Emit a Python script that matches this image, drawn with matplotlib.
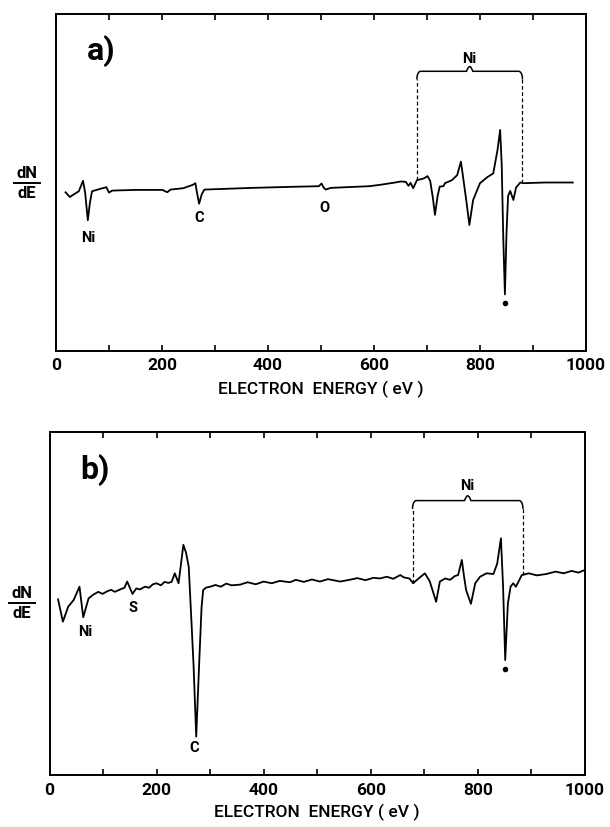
import numpy as np
import matplotlib
matplotlib.use("Agg")
import matplotlib.pyplot as plt

plt.rcParams['font.family'] = ['Roboto', 'DejaVu Sans']

# ---- spectrum a) : energy (eV) and dN/dE (arbitrary units, 0..100 of panel height)
energy_a = [18, 26, 43, 51, 55, 60, 64, 68, 83, 95, 100, 106, 150, 201, 210, 216,
            240, 258, 263, 266, 270, 275, 280, 370, 440, 496, 501, 505, 509, 518,
            591, 611, 640, 650, 660, 665, 669, 674, 681, 694, 701, 706, 711, 715,
            720, 724, 731, 734, 747, 757, 764, 768, 774, 780, 787, 800, 813, 825,
            833, 838, 841, 844, 847, 850, 853, 857, 863, 868, 876, 882, 923, 975]
dnde_a = [47.1, 45.7, 47.4, 50.5, 47.0, 38.8, 44.0, 47.4, 48.1, 48.6, 47.0, 47.6,
          47.8, 47.8, 47.1, 47.9, 48.3, 49.3, 49.8, 47.0, 43.7, 46.5, 47.9, 48.4,
          48.7, 48.9, 49.7, 48.5, 47.9, 48.4, 48.9, 49.3, 50.0, 50.3, 50.2, 49.0,
          49.9, 48.3, 50.7, 51.2, 51.9, 50.5, 45.5, 40.4, 46.0, 48.8, 48.9, 49.8,
          50.7, 52.2, 56.2, 51.7, 44.8, 37.4, 44.8, 49.8, 51.5, 52.7, 59.6, 65.6,
          55.0, 33.0, 16.8, 35.0, 46.0, 47.5, 44.8, 48.5, 50.0, 49.8, 50.0, 50.0]

# ---- spectrum b)
energy_b = [16, 25, 35, 45, 56, 63, 73, 82, 91, 99, 107, 115, 122, 132, 140, 145,
            155, 162, 169, 178, 186, 193, 200, 208, 215, 222, 228, 234, 241, 250,
            255, 260, 265, 269, 274, 280, 284, 287, 292, 300, 310, 320, 330, 340,
            356, 370, 385, 400, 415, 430, 449, 460, 475, 490, 505, 520, 543, 560,
            575, 590, 605, 617, 630, 642, 655, 662, 672, 679, 690, 701, 710, 722,
            729, 739, 748, 757, 763, 770, 774, 778, 787, 795, 804, 816, 829, 836,
            843, 847, 851, 856, 861, 866, 871, 882, 895, 910, 928, 945, 960, 975,
            988, 997]
dnde_b = [51.2, 44.7, 49.1, 51.0, 54.9, 46.0, 51.5, 52.6, 53.4, 52.8, 53.5, 54.0,
          53.4, 54.1, 54.6, 56.4, 52.8, 54.4, 54.1, 54.9, 54.6, 55.6, 55.9, 55.3,
          56.3, 56.0, 56.3, 58.8, 55.9, 67.1, 64.8, 60.7, 45.0, 32.0, 11.2, 34.5,
          49.0, 53.9, 54.6, 54.9, 55.4, 54.9, 55.8, 55.3, 55.5, 56.2, 55.6, 56.4,
          55.9, 56.6, 56.2, 56.9, 56.3, 57.0, 56.4, 57.1, 56.4, 56.9, 57.4, 56.8,
          57.5, 57.3, 57.8, 57.2, 58.3, 57.6, 57.3, 55.9, 57.4, 58.8, 56.5, 50.5,
          56.4, 57.3, 56.9, 58.0, 58.3, 62.7, 58.0, 53.9, 49.9, 55.9, 57.8, 58.8,
          58.6, 61.6, 69.0, 55.0, 33.5, 50.0, 54.9, 55.9, 54.9, 58.3, 58.8, 58.2,
          58.6, 59.3, 58.8, 59.5, 59.0, 59.6]

# peak labels: (text, energy, height)
labels_a = [('Ni', 60, 33.4), ('C', 271, 39.4), ('O', 507, 42.3)]
labels_b = [('Ni', 66, 41.8), ('S', 156, 48.6), ('C', 270, 7.8)]
dot_a = (847, 14.3)
dot_b = (851, 30.9)
# Ni group bracket: (low eV, high eV, bracket height, label height)
bracket_a = (681, 880, 83.0, 86.6)
bracket_b = (678, 884, 80.0, 84.3)

fig = plt.figure(figsize=(6.1, 8.27), dpi=100)
W, H = 610, 827


def px_axes(l, t, r, b):
    return fig.add_axes([l / W, 1 - b / H, (r - l) / W, (b - t) / H])


def bracket(ax, x, y, br):
    lo, hi, top, ly = br
    rx, ry = 7, 2.2
    for xe in (lo, hi):
        ax.plot([xe, xe], [np.interp(xe, x, y), top - ry], color='k', lw=0.9,
                ls=(0, (3, 2)))
    mid = (lo + hi) / 2
    t = np.linspace(0, np.pi / 2, 12)
    bx = list(lo + rx - rx * np.cos(t)) + [mid - 6]
    by = list(top - ry + ry * np.sin(t)) + [top]
    c = np.linspace(0, 1, 8)
    bx += list(mid - 6 + 6 * c) + list(mid + 6 * c)
    by += list(top + 1.4 * np.sin(c * np.pi / 2)) + list(top + 1.4 * np.cos(c * np.pi / 2))
    bx += list(hi - rx + rx * np.sin(t))
    by += list(top - ry + ry * np.cos(t))
    ax.plot(bx, by, color='k', lw=1.1)
    ax.text(mid, ly, 'Ni', ha='center', va='center', fontsize=10.5, fontweight='bold')


def panel(ax, x, y, labels, dot, br, tag, tpad, lpad):
    ax.plot(x, y, color='k', lw=1.3)
    for s, ex, ey in labels:
        ax.text(ex, ey, s, ha='center', va='center', fontsize=10.5, fontweight='bold')
    ax.plot(*dot, 'o', color='k', ms=3)
    bracket(ax, x, y, br)
    ax.text(0.085, 0.89, tag, transform=ax.transAxes, ha='center', va='center',
            fontsize=23, fontweight='bold')
    ax.set_xlim(0, 1000)
    ax.set_ylim(0, 100)
    ax.set_xticks(range(0, 1001, 200))
    ax.set_xticks(range(0, 1001, 100), minor=True)
    ax.set_yticks([])
    ax.tick_params(axis='x', which='both', direction='in', top=True, length=4,
                   width=1.2, labelsize=12.5, pad=tpad)
    for lab in ax.get_xticklabels():
        lab.set_fontweight('bold')
    for sp in ax.spines.values():
        sp.set_linewidth(1.4)
    ax.set_xlabel('ELECTRON  ENERGY ( eV )', fontsize=12.5, fontweight='medium',
                  labelpad=lpad)


def dnde(xc, yc):
    fig.text(xc / W, 1 - (yc - 10) / H, 'dN', ha='center', va='center',
             fontsize=12, fontweight='bold')
    fig.text(xc / W, 1 - (yc + 11) / H, 'dE', ha='center', va='center',
             fontsize=12, fontweight='bold')
    fig.add_artist(plt.Line2D([(xc - 13) / W, (xc + 13) / W],
                              [1 - yc / H, 1 - yc / H], color='k', lw=1.4))


ax_a = px_axes(56, 14, 586, 351)
panel(ax_a, energy_a, dnde_a, labels_a, dot_a, bracket_a, 'a)', 5, 6)
dnde(27, 183)

ax_b = px_axes(49.5, 432, 585, 775)
panel(ax_b, energy_b, dnde_b, labels_b, dot_b, bracket_b, 'b)', 6, 4)
dnde(22, 603)

fig.savefig('out.png', dpi=100)
